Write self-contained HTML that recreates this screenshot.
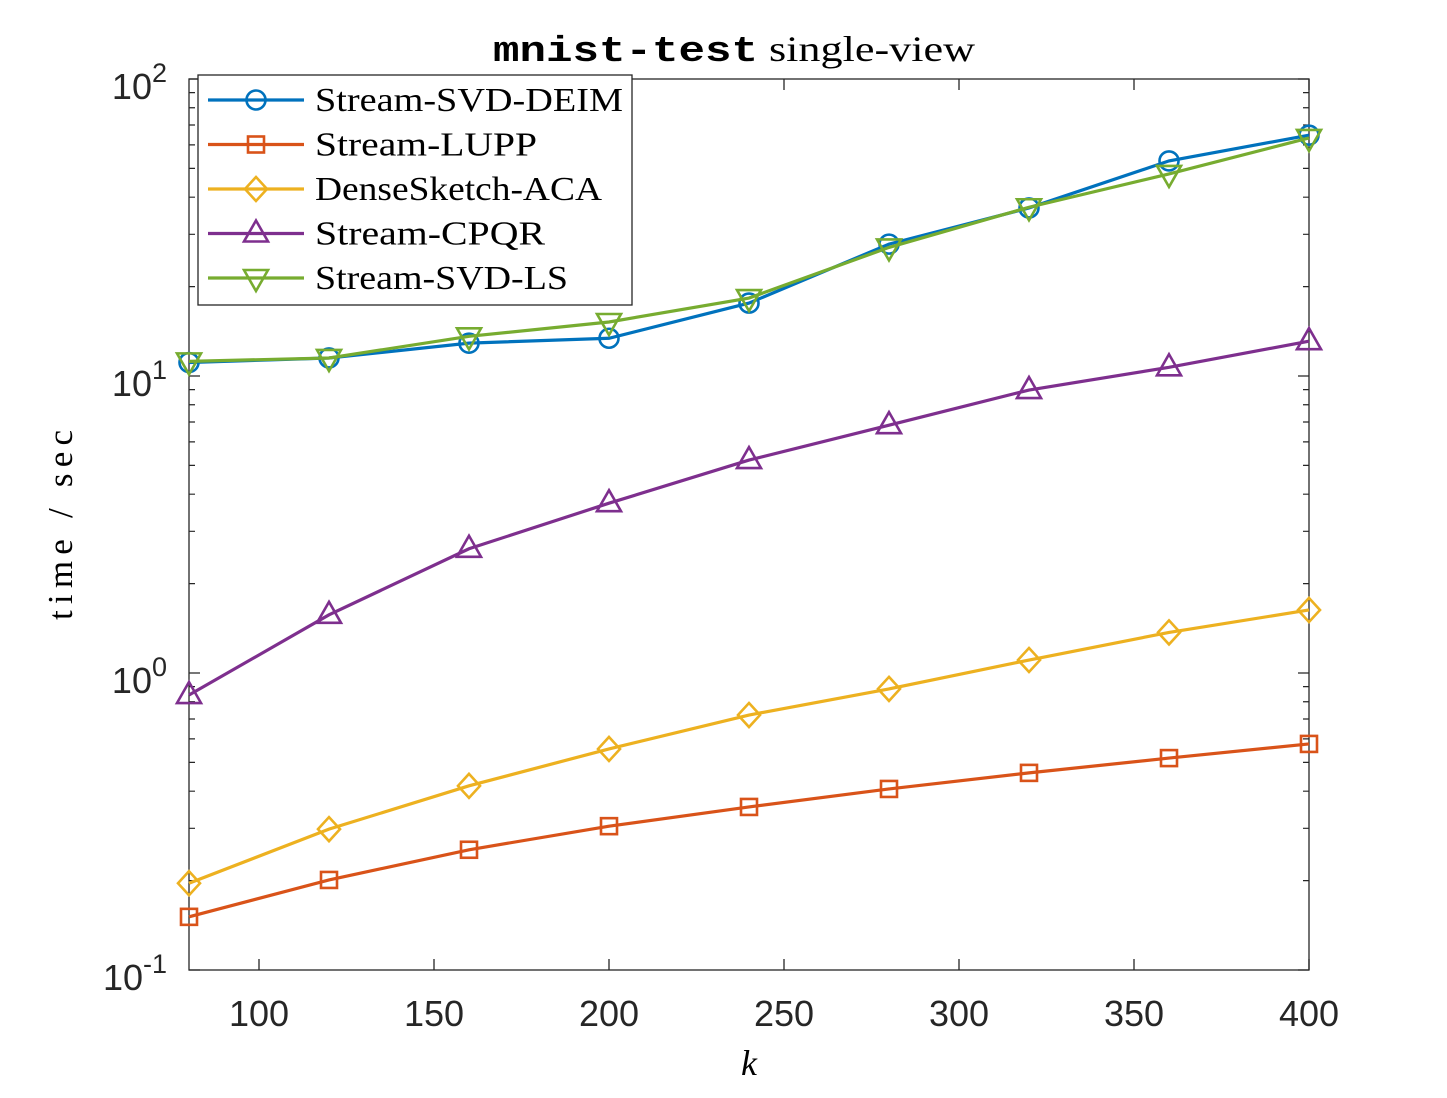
<!DOCTYPE html>
<html><head><meta charset="utf-8"><style>
body{margin:0;background:#fff}
svg text{font-family:"Liberation Sans",sans-serif}
.serif{font-family:"Liberation Serif",serif}
</style></head><body>
<svg id="chart" width="1447" height="1093" viewBox="0 0 1447 1093">
<rect x="0" y="0" width="1447" height="1093" fill="#fff"/>
<g id="grid"></g>
<g id="series"></g>
<g id="legend"></g>
</svg>
<script>
const ks=[80,120,160,200,240,280,320,360,400];
const deim=[11.1,11.5,12.9,13.4,17.6,27.8,36.8,53,64.7];
const lupp=[0.151,0.201,0.254,0.305,0.354,0.407,0.461,0.517,0.577];
const aca=[0.196,0.298,0.417,0.555,0.722,0.884,1.106,1.37,1.63];
const cpqr=[0.843,1.57,2.62,3.73,5.21,6.83,8.97,10.7,13.1];
const svdls=[11.2,11.5,13.6,15.2,18.3,27.1,37,47.9,63.3];
const xTicks=[100,150,200,250,300,350,400];
const yDecades=[-1,0,1,2];
const names=["Stream-SVD-DEIM","Stream-LUPP","DenseSketch-ACA","Stream-CPQR","Stream-SVD-LS"];
const nameWidths=[308,222,287,230,253];
const colors=["#0072BD","#D95319","#EDB120","#7E2F8E","#77AC30"];
const markers=["circle","square","diamond","tri-up","tri-down"];
const allData=[deim,lupp,aca,cpqr,svdls];

const NS="http://www.w3.org/2000/svg";
const L=189,R=1309,T=79,B=970;
const X=v=>L+(v-80)/(400-80)*(R-L);
const Y=v=>B-(Math.log10(v)+1)/3*(B-T);
function mk(tag,attrs,parent){const e=document.createElementNS(NS,tag);for(const k in attrs)e.setAttribute(k,attrs[k]);parent.appendChild(e);return e;}
const grid=document.getElementById('grid'),ser=document.getElementById('series'),leg=document.getElementById('legend');
xTicks.forEach(t=>{const x=X(t);
 const tk=mk('path',{d:`M${x},${B}v-11M${x},${T}v11`,stroke:'#262626','stroke-width':1.3},grid);
 
 const lb=mk('text',{x:x,y:B+56,'text-anchor':'middle','font-size':36,fill:'#262626'},grid);lb.textContent=t;
 });
yDecades.forEach(d=>{const y=Y(Math.pow(10,d));
 const tk=mk('path',{d:`M${L},${y}h11M${R},${y}h-11`,stroke:'#262626','stroke-width':1.3},grid);
 
 const lb=mk('text',{x:L-22,y:y+20,'text-anchor':'end','font-size':36,fill:'#262626'},grid);
 
 lb.innerHTML='10<tspan font-size="27" dy="-17">'+d+'</tspan>';
 if(d<2)for(let m=2;m<10;m++){const yy=Y(m*Math.pow(10,d));
  const mt=mk('path',{d:`M${L},${yy}h6M${R},${yy}h-6`,stroke:'#262626','stroke-width':1.2},grid);
  }});
const frame=mk('rect',{x:L,y:T,width:R-L,height:B-T,fill:'none',stroke:'#262626','stroke-width':1.3},grid);

function marker(type,x,y,c,p){let e;
 if(type=='circle')e=mk('circle',{cx:x,cy:y,r:9.5},p);
 else if(type=='square')e=mk('rect',{x:x-8,y:y-8,width:16,height:16},p);
 else if(type=='diamond')e=mk('path',{d:`M${x},${y-12}L${x+11},${y}L${x},${y+12}L${x-11},${y}Z`},p);
 else if(type=='tri-up')e=mk('path',{d:`M${x},${y-13}L${x+12},${y+8}L${x-12},${y+8}Z`},p);
 else e=mk('path',{d:`M${x},${y+13}L${x+12},${y-8}L${x-12},${y-8}Z`},p);
 e.setAttribute('fill','none');e.setAttribute('stroke',c);e.setAttribute('stroke-width',2.6);return e;}
[1,2,3,0,4].forEach(i=>{const g=mk('g',{},ser);
 
 const pts=ks.map((k,j)=>X(k)+','+Y(allData[i][j])).join(' ');
 mk('polyline',{points:pts,fill:'none',stroke:colors[i],'stroke-width':3.2},g);
 ks.forEach((k,j)=>{const m=marker(markers[i],X(k),Y(allData[i][j]),colors[i],g);
  });});
const lb=mk('rect',{x:198,y:75,width:434,height:230,fill:'#fff',stroke:'#262626','stroke-width':1.3},leg);

names.forEach((n,i)=>{const y=100+i*44.5;const g=mk('g',{},leg);
 
 mk('line',{x1:208,x2:304,y1:y,y2:y,stroke:colors[i],'stroke-width':3.2},g);
 marker(markers[i],256,y,colors[i],g);
 const t=mk('text',{x:315,y:y+11,'font-size':34,fill:'#000',class:'serif',textLength:nameWidths[i],lengthAdjust:'spacingAndGlyphs'},g);t.textContent=n;});
const tt=mk('text',{x:493,y:61,'font-size':36,fill:'#000',textLength:482,lengthAdjust:'spacingAndGlyphs'},leg);

tt.innerHTML='<tspan font-family="Liberation Mono" font-weight="bold">mnist-test</tspan><tspan font-family="Liberation Serif"> single-view</tspan>';
const xt=mk('text',{x:749,y:1075,'text-anchor':'middle','font-size':36,'font-style':'italic',class:'serif'},leg);xt.textContent='k';

const yt=mk('text',{x:-95,y:0,'font-size':35,class:'serif',textLength:190,lengthAdjust:'spacing',transform:'translate(72,525) rotate(-90)'},leg);yt.textContent='time / sec';

</script>
</body></html>
